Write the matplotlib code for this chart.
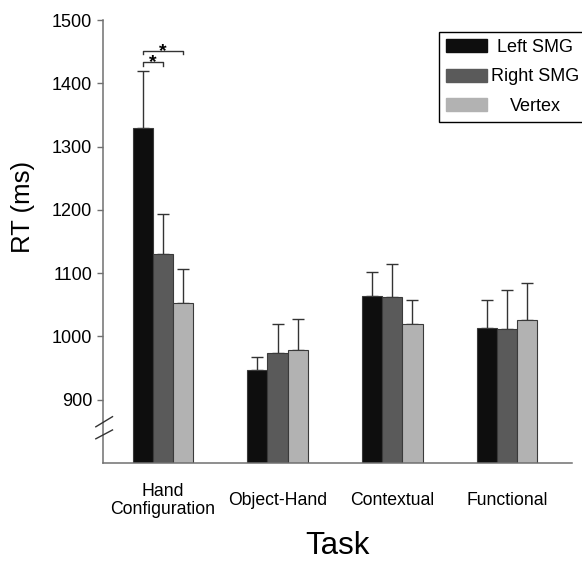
import matplotlib
matplotlib.use('Agg')
import matplotlib.pyplot as plt
import matplotlib.patches as mpatches
import numpy as np

plt.rcParams['font.family'] = ['Liberation Sans', 'DejaVu Sans']

tasks = ["Hand\nConfiguration", "Object-Hand", "Contextual", "Functional"]
series = ["Left SMG", "Right SMG", "Vertex"]
colors = ["#0e0e0e", "#5a5a5a", "#b2b2b2"]

left_smg = [1330, 947, 1064, 1014]
right_smg = [1131, 974, 1063, 1012]
vertex = [1053, 978, 1019, 1026]

left_err = [90, 20, 37, 43]
right_err = [62, 45, 52, 61]
vertex_err = [54, 50, 39, 59]

means = [left_smg, right_smg, vertex]
errs = [left_err, right_err, vertex_err]

fig = plt.figure(figsize=(5.82, 5.61), dpi=100)
ax = fig.add_axes([0.1765, 0.175, 0.8055, 0.789])

x = np.arange(len(tasks))
w = 0.174
axis_col = "#707070"

for i, (m, e, c, lab) in enumerate(zip(means, errs, colors, series)):
    pos = x + (i - 1) * w
    ax.bar(pos, m, width=w, color=c, edgecolor="#3a3a3a", linewidth=0.8, label=lab, zorder=2)
    ax.errorbar(pos, m, yerr=[np.zeros(len(e)), e], fmt='none', ecolor="#333333",
                elinewidth=1, capsize=4.3, capthick=1, zorder=1)

ax.set_xlim(-0.52, 3.557)
ax.set_ylim(800, 1500)
ax.set_yticks([900, 1000, 1100, 1200, 1300, 1400, 1500])
ax.set_xticks(x)
ax.set_xticklabels(tasks, fontsize=12.7, va='center', linespacing=1.05)
ax.tick_params(axis='x', length=0, pad=27)
ax.tick_params(axis='y', direction='out', length=4.5, width=1, color=axis_col, labelsize=13, pad=3)

for s in ['top', 'right']:
    ax.spines[s].set_visible(False)
for s in ['left', 'bottom']:
    ax.spines[s].set_color(axis_col)
    ax.spines[s].set_linewidth(1.1)

ax.set_ylabel("RT (ms)", fontsize=18.5)
ax.yaxis.set_label_coords(-0.145, 0.578)
ax.set_xlabel("Task", fontsize=22.5)
ax.xaxis.set_label_coords(0.5, -0.155)

# axis break marks
for y0, y1 in [(857, 873), (838, 852)]:
    ax.plot([-0.58, -0.435], [y0, y1], color="#333333", lw=1, clip_on=False, zorder=5)

# significance brackets
x1, x2, x3 = x[0] - w, x[0], x[0] + w
ax.plot([x1, x1, x2, x2], [1427, 1434, 1434, 1427], color="#333333", lw=1, clip_on=False)
ax.text((x1 + x2) / 2, 1426, "*", ha='center', va='baseline', fontsize=14, fontweight='bold')
ax.plot([x1, x1, x3, x3], [1446, 1452, 1452, 1446], color="#333333", lw=1, clip_on=False)
ax.text((x1 + x3) / 2, 1444, "*", ha='center', va='baseline', fontsize=14, fontweight='bold')

handles = [mpatches.Patch(facecolor=c, edgecolor=c) for c in colors]
leg = fig.legend(handles, series, loc='upper right', bbox_to_anchor=(1.008, 0.943),
                 fancybox=False, framealpha=1, edgecolor='black', fontsize=13,
                 handlelength=2.25, handleheight=0.72, handletextpad=0.25,
                 borderpad=0.4, labelspacing=0.68, borderaxespad=0)
leg.get_frame().set_linewidth(1)

# centre the legend labels in their column
fig.canvas.draw()
texts = leg.get_texts()
widths = [t.get_window_extent().width for t in texts]
maxw = max(widths)
for t, tw in zip(texts, widths):
    t.set_x((maxw - tw) / 2)

fig.savefig("out.png", dpi=100)
